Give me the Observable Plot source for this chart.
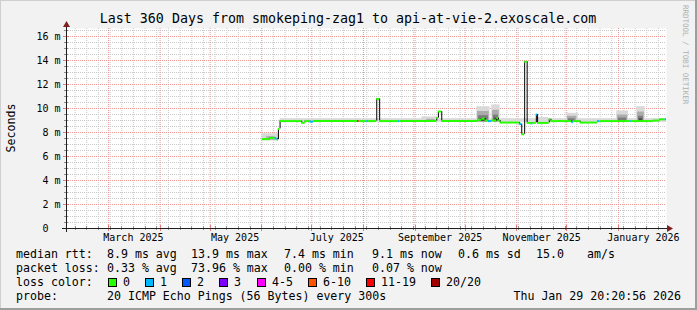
<!DOCTYPE html>
<html><head><meta charset="utf-8">
<script src="https://cdn.jsdelivr.net/npm/d3@7"></script>
<script src="https://cdn.jsdelivr.net/npm/@observablehq/plot@0.6"></script>
<style>
html,body{margin:0;padding:0;background:#f2f2f2;}
#chart{width:697px;height:310px;position:relative;overflow:hidden;}
svg text{font-family:"DejaVu Sans Mono",monospace;}
</style></head><body><div id="chart"></div>
<script>
// ---- time range ----
const rangeStart = "2025-02-03T20:20:56Z";
const rangeEnd = "2026-01-29T20:20:56Z";

// ---- median rtt (ms) with loss class, each value holds until next time ----
const medianTimes = [
"2025-06-01T06:00Z","2025-06-06T00:00Z","2025-06-09T00:00Z","2025-06-10T06:00Z","2025-06-11T00:00Z",
"2025-06-12T00:00Z","2025-06-25T00:00Z","2025-06-27T00:00Z","2025-06-30T00:00Z","2025-07-02T00:00Z",
"2025-07-28T12:00Z","2025-07-29T12:00Z","2025-08-03T00:00Z","2025-08-04T00:00Z","2025-08-09T00:00Z",
"2025-08-10T18:00Z","2025-08-22T00:00Z","2025-08-23T00:00Z","2025-09-14T00:00Z","2025-09-15T00:00Z",
"2025-09-17T00:00Z","2025-10-09T00:00Z","2025-10-11T00:00Z","2025-10-13T00:00Z","2025-10-15T00:00Z",
"2025-10-17T00:00Z","2025-10-20T00:00Z","2025-10-21T00:00Z","2025-10-22T00:00Z","2025-11-02T18:00Z",
"2025-11-04T00:00Z","2025-11-05T18:00Z","2025-11-07T06:00Z","2025-11-10T00:00Z","2025-11-10T18:00Z",
"2025-11-12T18:00Z","2025-11-13T12:00Z","2025-11-20T12:00Z","2025-11-21T12:00Z","2025-12-04T00:00Z",
"2025-12-05T00:00Z","2025-12-09T00:00Z","2025-12-19T12:00Z","2025-12-20T00:00Z","2025-12-20T18:00Z",
"2026-01-08T00:00Z","2026-01-08T18:00Z","2026-01-22T00:00Z","2026-01-26T00:00Z","2026-01-29T00:00Z"];
const medianValues = [
7.45,7.55,7.5,7.4,8.3,
8.95,8.8,8.95,8.9,8.95,
8.95,8.95,8.95,8.95,10.8,
8.95,8.95,8.95,9.2,9.75,
8.95,9.05,9.15,9.0,8.95,
9.0,9.2,9.0,8.83,8.7,
7.85,13.9,8.8,8.75,8.8,
9.5,8.8,9.1,8.95,8.85,
8.95,8.83,8.95,8.95,8.95,
8.95,8.95,9.0,9.1,9.1];
const medianLoss = [
0,0,1,0,0,
0,0,0,1,0,
6,0,1,0,0,
0,1,0,0,0,
0,0,0,0,1,
0,0,0,0,1,
0,0,0,1,0,
1,0,0,0,1,
0,0,0,1,0,
1,0,0,0,1];

// ---- smoke (spread of pings), ms; tone 0 = outer/lightest ... 3 = core/darkest ----
const smokeFrom = [
"2025-06-01T06:00Z","2025-06-12T00:00Z","2025-09-05T00:00Z","2025-10-08T00:00Z","2025-10-17T00:00Z","2025-12-01T00:00Z","2025-12-31T00:00Z","2026-01-12T00:00Z","2025-11-14T00:00Z",
"2025-06-04T00:00Z","2025-09-08T00:00Z","2025-10-08T12:00Z","2025-10-17T12:00Z","2025-12-01T12:00Z","2025-12-31T12:00Z","2026-01-12T12:00Z",
"2025-10-09T00:00Z","2025-10-18T00:00Z","2025-12-02T00:00Z","2026-01-01T00:00Z","2026-01-13T00:00Z",
"2025-10-10T00:00Z","2025-10-18T12:00Z","2026-01-13T12:00Z"];
const smokeTo = [
"2025-06-11T00:00Z","2026-01-29T20:00Z","2025-09-14T00:00Z","2025-10-16T00:00Z","2025-10-22T00:00Z","2025-12-08T00:00Z","2026-01-07T00:00Z","2026-01-17T00:00Z","2025-11-20T00:00Z",
"2025-06-09T00:00Z","2025-09-13T00:00Z","2025-10-15T12:00Z","2025-10-21T12:00Z","2025-12-07T00:00Z","2026-01-06T12:00Z","2026-01-16T12:00Z",
"2025-10-15T00:00Z","2025-10-21T00:00Z","2025-12-06T00:00Z","2026-01-06T00:00Z","2026-01-16T00:00Z",
"2025-10-14T00:00Z","2025-10-20T12:00Z","2026-01-15T12:00Z"];
const smokeLow = [
7.3,8.85,8.9,8.9,8.9,8.9,8.9,8.9,8.85,
7.35,8.9,8.9,8.9,8.9,8.9,8.9,
8.9,8.9,8.9,8.9,8.9,
8.9,8.9,8.9];
const smokeHigh = [
7.9,9.15,9.3,10.15,10.3,9.6,9.8,10.15,9.25,
7.65,9.1,9.75,9.85,9.35,9.45,9.7,
9.4,9.45,9.15,9.2,9.35,
9.15,9.2,9.15];
const smokeTone = [
0,0,0,0,0,0,0,0,0,
1,1,1,1,1,1,1,
2,2,2,2,2,
3,3,3];
const smokeColors = ["#d9d9d9","#ababab","#7c7c7c","#4c4c4c"];

// ---- loss legend ----
const lossLabels = ["0","1","2","3","4-5","6-10","11-19","20/20"];
const lossColors = ["#26ff00","#00b8ff","#0059ff","#7e00ff","#ff00ff","#ff5500","#ff0000","#a10000"];

// ---- axes ----
const yTicks = [0,2,4,6,8,10,12,14,16];
const yTickLabels = ["\u00a00\u00a0\u00a0","\u00a02\u00a0m","\u00a04\u00a0m","\u00a06\u00a0m","\u00a08\u00a0m","10\u00a0m","12\u00a0m","14\u00a0m","16\u00a0m"];
const xLabelDates = ["2025-03-16","2025-05-16","2025-07-16","2025-09-16","2025-11-16","2026-01-16"];
const xLabelTexts = ["March 2025","May 2025","July 2025","September 2025","November 2025","January 2026"];
const monthStarts = ["2025-03-01","2025-04-01","2025-05-01","2025-06-01","2025-07-01","2025-08-01","2025-09-01","2025-10-01","2025-11-01","2025-12-01","2026-01-01"];

// ---- text ----
const titleText = "Last 360 Days from smokeping-zag1 to api-at-vie-2.exoscale.com";
const rttItems = [["median rtt:",16],["8.9 ms avg",107],["13.9 ms max",191],["7.4 ms min",284],["9.1 ms now",372],["0.6 ms sd",458],["15.0",536],["am/s",587]];
const lossItems = [["packet loss:",16],["0.33 % avg",107],["73.96 % max",191],["0.00 % min",284],["0.07 % now",372]];
const lossBoxX = [108,145,182,219,257,308,366,431];
const probeText = "20 ICMP Echo Pings (56 Bytes) every 300s";
const dateText = "Thu Jan 29 20:20:56 2026";

// ---- build tables ----
const endDate = new Date(rangeEnd);
const segs = medianTimes.map((t,i)=>({t1:new Date(t), t2:new Date(i+1<medianTimes.length?medianTimes[i+1]:rangeEnd), v:medianValues[i], loss:medianLoss[i]}));
const joins = segs.slice(1).map((s,i)=>({t:s.t1, a:segs[i].v, b:s.v})).filter(d=>d.a!==d.b);
const smoke = smokeFrom.map((f,i)=>({x1:new Date(f), x2:new Date(smokeTo[i]), y1:smokeLow[i], y2:smokeHigh[i], tone:smokeTone[i]}));
const yMinor = d3.range(0.5, 16.6, 0.5).filter(v=>v%2!==0);
const xMinor = d3.utcSunday.range(new Date(rangeStart), endDate).filter(d=>d.getUTCDate()!==1);
const xMajor = monthStarts.map(d=>new Date(d));

const chart = Plot.plot({
  width: 697, height: 310,
  marginLeft: 66, marginRight: 31, marginTop: 28, marginBottom: 82,
  x: {type:"utc", domain:[new Date(rangeStart), endDate]},
  y: {domain:[0, 200/12]},
  style: {fontFamily:"DejaVu Sans Mono", fontSize:"10px", background:"transparent", overflow:"visible", color:"#000"},
  marks: [
    Plot.frame({fill:"#ffffff", stroke:null}),
    Plot.ruleY(yMinor, {stroke:"#c8c8c8", strokeDasharray:"1,1"}),
    Plot.ruleX(xMinor, {stroke:"#c8c8c8", strokeDasharray:"1,1"}),
    Plot.ruleY(yTicks.filter(v=>v>0), {stroke:"#eb9595", strokeDasharray:"1,1"}),
    Plot.ruleX(xMajor, {stroke:"#eb9595", strokeDasharray:"1,1"}),
    Plot.rect(smoke, {x1:"x1", x2:"x2", y1:"y1", y2:"y2", fill:d=>smokeColors[d.tone]}),
    Plot.ruleX(joins, {x:"t", y1:"a", y2:"b", stroke:"#000", strokeWidth:1}),
    Plot.ruleY(segs, {x1:"t1", x2:"t2", y:"v", stroke:d=>lossColors[d.loss], strokeWidth:2}),
    Plot.axisY(yTicks, {tickSize:0, tickPadding:6, tickFormat:(d)=>yTickLabels[yTicks.indexOf(d)], label:null, fontSize:10}),
    Plot.axisX(xLabelDates.map(d=>new Date(d)), {tickSize:0, tickPadding:5, tickFormat:d=>xLabelTexts[xLabelDates.findIndex(s=>+new Date(s)===+d)], label:null, fontSize:10})
  ]
});
document.getElementById("chart").appendChild(chart);

const svg = d3.select(chart);
const xs = chart.scale("x"), ys = chart.scale("y");
// tick marks across axes
const tk = svg.append("g");
xMinor.forEach(d=>{const x=Math.round(xs.apply(d))+0.5; tk.append("line").attr("x1",x).attr("x2",x).attr("y1",226).attr("y2",230).attr("stroke","#8f8f8f");});
xMajor.forEach(d=>{const x=Math.round(xs.apply(d))+0.5; tk.append("line").attr("x1",x).attr("x2",x).attr("y1",225).attr("y2",231).attr("stroke","#de4f4f").attr("stroke-opacity",0.7);});
yMinor.forEach(v=>{const y=Math.round(ys.apply(v))+0.5; tk.append("line").attr("x1",64).attr("x2",68).attr("y1",y).attr("y2",y).attr("stroke","#8f8f8f");});
yTicks.filter(v=>v>0).forEach(v=>{const y=Math.round(ys.apply(v))+0.5; tk.append("line").attr("x1",63).attr("x2",69).attr("y1",y).attr("y2",y).attr("stroke","#de4f4f").attr("stroke-opacity",0.7);});
// axes
svg.append("line").attr("x1",62).attr("x2",667).attr("y1",228.5).attr("y2",228.5).attr("stroke","#1f1f1f");
svg.append("line").attr("x1",66.5).attr("x2",66.5).attr("y1",232).attr("y2",26).attr("stroke","#1f1f1f");
svg.append("path").attr("d","M667,225L673,228.5L667,232Z").attr("fill","#801f1f");
svg.append("path").attr("d","M63,27L66.5,21L70,27Z").attr("fill","#801f1f");
// frame shading
svg.append("path").attr("d","M0,0.5H697M0.5,0V310").attr("stroke","#cfcfcf").attr("fill","none");
svg.append("path").attr("d","M0,308.5H697M0,309.5H697M695.5,0V310M696.5,0V310").attr("stroke","#9e9e9e").attr("fill","none");
// title
svg.append("text").attr("x",348).attr("y",23).attr("text-anchor","middle").attr("font-size","13.3px").text(titleText);
// y label
svg.append("text").attr("transform","translate(14.5,128) rotate(-90)").attr("text-anchor","middle").attr("font-size","11.6px").text("Seconds");
// watermark
svg.append("text").attr("transform","translate(683,5) rotate(90)").attr("text-anchor","start").attr("font-size","7.5px").attr("fill","#b0b0b0").text("RRDTOOL / TOBI OETIKER");
// legend rows
const lg = svg.append("g").attr("font-size","11.6px").attr("fill","#000").attr("text-anchor","start");
rttItems.forEach(([t,x])=>lg.append("text").attr("x",x).attr("y",258).attr("text-anchor","start").text(t));
lossItems.forEach(([t,x])=>lg.append("text").attr("x",x).attr("y",272).attr("text-anchor","start").text(t));
lg.append("text").attr("x",16).attr("y",286).attr("text-anchor","start").text("loss color:");
lossLabels.forEach((l,i)=>{
  lg.append("rect").attr("x",lossBoxX[i]+0.5).attr("y",278.5).attr("width",8).attr("height",8).attr("fill",lossColors[i]).attr("stroke","#000");
  lg.append("text").attr("x",lossBoxX[i]+15).attr("y",286).attr("text-anchor","start").text(l);
});
lg.append("text").attr("x",16).attr("y",300).attr("text-anchor","start").text("probe:");
lg.append("text").attr("x",107).attr("y",300).attr("text-anchor","start").text(probeText);
lg.append("text").attr("x",681).attr("y",300).attr("text-anchor","end").text(dateText);
</script></body></html>
